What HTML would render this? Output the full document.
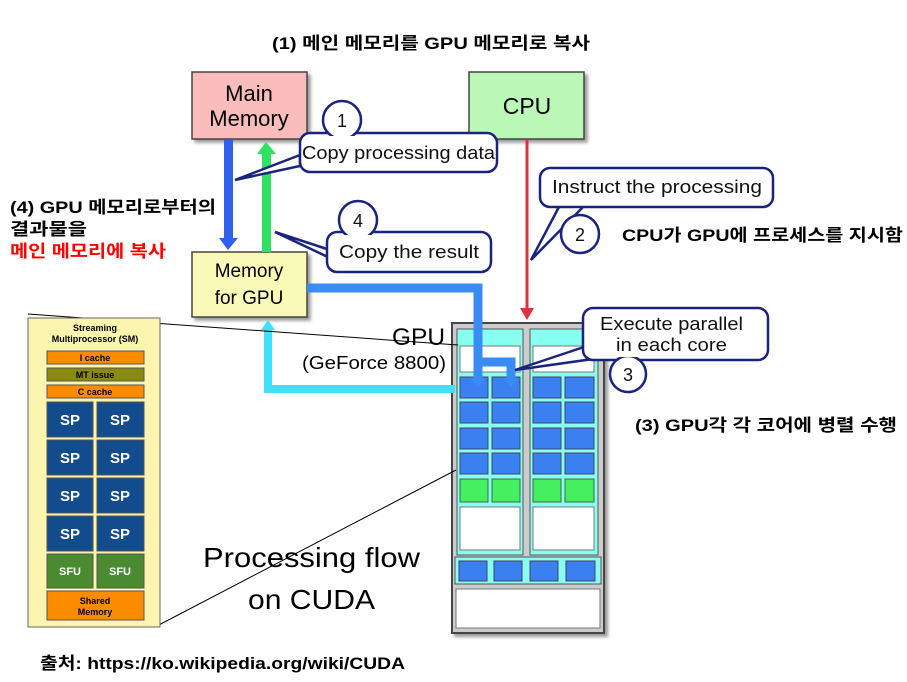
<!DOCTYPE html>
<html><head><meta charset="utf-8"><style>
body{margin:0;background:#fff;}
svg text{font-family:"Liberation Sans","Noto Sans CJK KR",sans-serif;}
.k{font-family:"Liberation Sans","Noto Sans CJK KR",sans-serif;font-weight:bold;}
</style></head><body>
<svg width="907" height="677" viewBox="0 0 907 677" xmlns="http://www.w3.org/2000/svg">
<defs>
<filter id="sh"><feDropShadow dx="3" dy="3" stdDeviation="1.5" flood-color="#555" flood-opacity="0.6"/></filter>
</defs>
<text x="272" y="49" class="k" font-size="17" textLength="318" lengthAdjust="spacingAndGlyphs">(1) 메인 메모리를 GPU 메모리로 복사</text>
<text x="10" y="213" class="k" font-size="17" textLength="206" lengthAdjust="spacingAndGlyphs">(4) GPU 메모리로부터의</text>
<text x="10" y="235" class="k" font-size="17" textLength="77" lengthAdjust="spacingAndGlyphs">결과물을</text>
<text x="10" y="257" class="k" font-size="17" fill="#f00" textLength="156" lengthAdjust="spacingAndGlyphs">메인 메모리에 복사</text>
<text x="622" y="241" class="k" font-size="17" textLength="281" lengthAdjust="spacingAndGlyphs">CPU가 GPU에 프로세스를 지시함</text>
<text x="635" y="431" class="k" font-size="17" textLength="262" lengthAdjust="spacingAndGlyphs">(3) GPU각 각 코어에 병렬 수행</text>
<text x="40" y="669" class="k" font-size="17" textLength="365" lengthAdjust="spacingAndGlyphs">출처: https://ko.wikipedia.org/wiki/CUDA</text>

<rect x="192" y="72" width="115" height="67" fill="#fbbcbc" stroke="#444" stroke-width="1.5" filter="url(#sh)"/>
<text x="249" y="101" text-anchor="middle" font-size="22">Main</text>
<text x="249" y="126" text-anchor="middle" font-size="22">Memory</text>
<rect x="469" y="72" width="115" height="67" fill="#bbf8b8" stroke="#444" stroke-width="1.5" filter="url(#sh)"/>
<text x="527" y="114" text-anchor="middle" font-size="23">CPU</text>
<rect x="192" y="252" width="115" height="65" fill="#fafab8" stroke="#444" stroke-width="1.5" filter="url(#sh)"/>
<text x="249" y="277" text-anchor="middle" font-size="19">Memory</text>
<text x="249" y="304" text-anchor="middle" font-size="19">for GPU</text>

<rect x="224" y="140" width="9" height="100" fill="#3060f0"/>
<polygon points="219,238 238,238 228,250" fill="#3060f0"/>
<rect x="262" y="152" width="9" height="100" fill="#30e060"/>
<polygon points="257,154 276,154 266,142" fill="#30e060"/>
<line x1="527" y1="140" x2="527" y2="310" stroke="#e03040" stroke-width="3"/>
<polygon points="520,308 534,308 527,320" fill="#e03040"/>

<text x="392" y="345" font-size="24" textLength="53" lengthAdjust="spacingAndGlyphs">GPU</text>
<text x="302" y="369" font-size="18" textLength="144" lengthAdjust="spacingAndGlyphs">(GeForce 8800)</text>
<rect x="452" y="323" width="152" height="310" fill="#ccc" stroke="#444" stroke-width="2" filter="url(#sh)"/>
<rect x="457" y="329" width="66" height="226" fill="#88fff0" stroke="#555"/>
<rect x="530" y="329" width="68" height="226" fill="#88fff0" stroke="#555"/>
<rect x="460" y="346" width="60" height="26" fill="#fff" stroke="#777"/>
<rect x="533" y="346" width="61" height="26" fill="#fff" stroke="#777"/>
<g fill="#3a80f0" stroke="#446">
<rect x="460" y="377" width="28" height="21"/><rect x="492" y="377" width="28" height="21"/>
<rect x="533" y="377" width="28" height="21"/><rect x="565" y="377" width="29" height="21"/>
<rect x="460" y="402" width="28" height="21"/><rect x="492" y="402" width="28" height="21"/>
<rect x="533" y="402" width="28" height="21"/><rect x="565" y="402" width="29" height="21"/>
<rect x="460" y="428" width="28" height="21"/><rect x="492" y="428" width="28" height="21"/>
<rect x="533" y="428" width="28" height="21"/><rect x="565" y="428" width="29" height="21"/>
<rect x="460" y="453" width="28" height="21"/><rect x="492" y="453" width="28" height="21"/>
<rect x="533" y="453" width="28" height="21"/><rect x="565" y="453" width="29" height="21"/>
</g>
<g fill="#44f060" stroke="#464">
<rect x="460" y="479" width="28" height="23"/><rect x="492" y="479" width="28" height="23"/>
<rect x="533" y="479" width="28" height="23"/><rect x="565" y="479" width="29" height="23"/>
</g>
<rect x="460" y="507" width="60" height="43" fill="#fff" stroke="#777"/>
<rect x="533" y="507" width="61" height="43" fill="#fff" stroke="#777"/>
<rect x="455" y="557" width="146" height="27" fill="#88fff0" stroke="#555"/>
<g fill="#3a80f0" stroke="#446">
<rect x="459" y="561" width="28" height="20"/><rect x="494" y="561" width="28" height="20"/>
<rect x="530" y="561" width="28" height="20"/><rect x="566" y="561" width="29" height="20"/>
</g>
<rect x="456" y="589" width="144" height="39" fill="#fff" stroke="#777"/>

<path d="M307,288 H478 V380" fill="none" stroke="#3a8cf5" stroke-width="9"/>
<path d="M478,362 H511 V380" fill="none" stroke="#3a8cf5" stroke-width="9"/>
<polygon points="470,378 486,378 478,387" fill="#3a8cf5"/>
<polygon points="503,378 519,378 511,387" fill="#3a8cf5"/>
<path d="M455,389 H268 V328" fill="none" stroke="#40e0f8" stroke-width="8"/>
<polygon points="261,330 275,330 268,320" fill="#40e0f8"/>

<g fill="#fff" stroke="#1a237e" stroke-width="2.5">
<polygon points="300,155 235,180 300,166"/>
<rect x="300" y="133" width="197" height="39" rx="10"/>
<circle cx="342" cy="120" r="19"/>
<polygon points="330,250 275,232 330,258"/>
<rect x="327" y="232" width="164" height="40" rx="10"/>
<circle cx="358" cy="220" r="19"/>
<polygon points="560,205 531,260 585,205"/>
<rect x="540" y="168" width="233" height="39" rx="10"/>
<circle cx="580" cy="234" r="19"/>
<polygon points="590,345 515,370 600,358"/>
<rect x="583" y="308" width="185" height="52" rx="10"/>
<circle cx="628" cy="374" r="18"/>
</g>
<g fill="#fff">
<rect x="302" y="136" width="193" height="33" rx="8"/>
<rect x="329" y="235" width="160" height="34" rx="8"/>
<rect x="542" y="171" width="229" height="33" rx="8"/>
<rect x="585" y="311" width="181" height="46" rx="8"/>
</g>
<g font-size="18" fill="#111">
<text x="342" y="127" text-anchor="middle">1</text>
<text x="302" y="159" textLength="193" lengthAdjust="spacingAndGlyphs">Copy processing data</text>
<text x="358" y="227" text-anchor="middle">4</text>
<text x="339" y="258" textLength="140" lengthAdjust="spacingAndGlyphs">Copy the result</text>
<text x="580" y="241" text-anchor="middle">2</text>
<text x="552" y="193" textLength="210" lengthAdjust="spacingAndGlyphs">Instruct the processing</text>
<text x="628" y="381" text-anchor="middle">3</text>
<text x="600" y="330" textLength="143" lengthAdjust="spacingAndGlyphs">Execute parallel</text>
<text x="616" y="351" textLength="111" lengthAdjust="spacingAndGlyphs">in each core</text>
</g>

<text x="203" y="567" font-size="28" textLength="217" lengthAdjust="spacingAndGlyphs">Processing flow</text>
<text x="248" y="609" font-size="28" textLength="127" lengthAdjust="spacingAndGlyphs">on CUDA</text>

<line x1="28" y1="314" x2="458" y2="345" stroke="#000" stroke-width="1"/>
<line x1="155" y1="627" x2="456" y2="470" stroke="#000" stroke-width="1"/>
<rect x="28" y="318" width="132" height="309" fill="#fbf5b0" stroke="#666"/>
<g font-family="Liberation Sans" font-weight="bold" text-anchor="middle">
<text x="95" y="331" font-size="9">Streaming</text>
<text x="95" y="342" font-size="9">Multiprocessor (SM)</text>
<rect x="47" y="351" width="97" height="13" fill="#fb8c00" stroke="#555"/><text x="95" y="361" font-size="9">I cache</text>
<rect x="47" y="368" width="97" height="13" fill="#8a8a10" stroke="#555"/><text x="95" y="378" font-size="9">MT issue</text>
<rect x="47" y="385" width="97" height="13" fill="#fb8c00" stroke="#555"/><text x="95" y="395" font-size="9">C cache</text>
<g fill="#124c8c" stroke="#555">
<rect x="47" y="402" width="46" height="35"/><rect x="97" y="402" width="47" height="35"/>
<rect x="47" y="440" width="46" height="35"/><rect x="97" y="440" width="47" height="35"/>
<rect x="47" y="478" width="46" height="35"/><rect x="97" y="478" width="47" height="35"/>
<rect x="47" y="516" width="46" height="35"/><rect x="97" y="516" width="47" height="35"/>
</g>
<g fill="#4a8a30" stroke="#555"><rect x="47" y="554" width="46" height="34"/><rect x="97" y="554" width="47" height="34"/></g>
<rect x="47" y="591" width="97" height="29" fill="#fb8c00" stroke="#555"/>
<g fill="#fff" font-size="15">
<text x="70" y="425">SP</text><text x="120" y="425">SP</text>
<text x="70" y="463">SP</text><text x="120" y="463">SP</text>
<text x="70" y="501">SP</text><text x="120" y="501">SP</text>
<text x="70" y="539">SP</text><text x="120" y="539">SP</text>
<text x="70" y="575" font-size="11">SFU</text><text x="120" y="575" font-size="11">SFU</text>
</g>
<text x="95" y="604" font-size="9">Shared</text>
<text x="95" y="615" font-size="9">Memory</text>
</g>
</svg>
</body></html>
